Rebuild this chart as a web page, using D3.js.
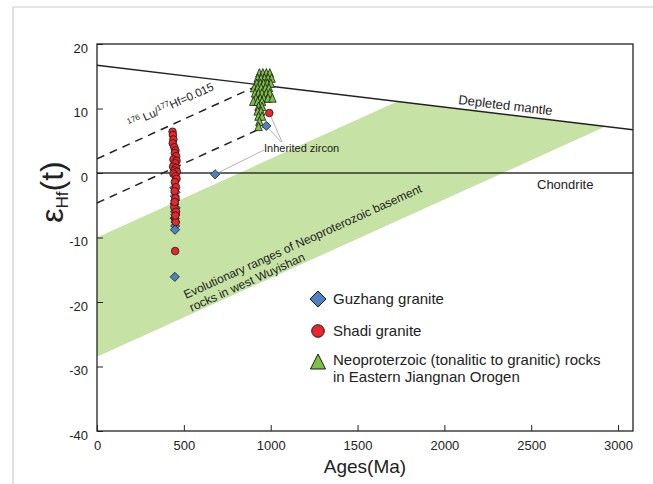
<!DOCTYPE html>
<html><head><meta charset="utf-8">
<script src="https://cdn.jsdelivr.net/npm/d3@7"></script>
<style>body{margin:0;background:#fff}svg{display:block}text{font-family:"Liberation Sans",Arial,sans-serif}</style>
</head><body>
<svg id="c" width="653" height="484"></svg>
<script>
// ---- data ----
const xTickLabels = [0, 500, 1000, 1500, 2000, 2500, 3000];
const yTickLabels = [-40, -30, -20, -10, 0, 10, 20];
const depletedMantle = [[0, 16.7], [3086, 6.7]];
const chondrite = [[0, 0], [3086, 0]];
const luHfUpper = [[0, 2.2], [937, 13.7]];
const luHfLower = [[0, -4.65], [975, 7.3]];
const wuyishanBand = [[0, -10], [1729, 11.1], [2927, 7.2], [0, -28.5]];
const guzhangAge = [445, 452, 448, 450, 446, 453, 449, 451, 447, 452, 450, 449, 448, 680, 975];
const guzhangEps = [-2.3, -3.0, -3.6, -4.2, -4.8, -5.4, -6.0, -6.5, -7.0, -7.6, -8.2, -8.8, -16.1, -0.2, 7.3];
const shadiAge = [435, 437, 440, 436, 445, 452, 448, 456, 440, 458, 450, 438, 455, 446, 460, 440, 452, 458, 448, 455, 447, 452, 445, 455, 449, 453, 447, 451, 450, 992];
const shadiEps = [6.4, 5.9, 5.2, 4.6, 4.0, 3.5, 3.1, 2.6, 2.1, 1.9, 1.5, 1.0, 0.8, 0.4, 0.2, -0.1, -0.5, -0.9, -1.4, -2.2, -2.8, -3.9, -5.3, -6.0, -7.0, -7.6, -4.5, -6.6, -12.1, 9.3];
const neoAge = [935, 955, 975, 995, 925, 945, 965, 985, 1005, 920, 940, 960, 980, 1000, 905, 925, 945, 970, 990, 910, 930, 950, 975, 995, 915, 940, 960, 985, 1010, 900, 925, 950, 930, 950, 925, 945, 930, 950, 935, 930];
const neoEps = [15.4, 15.4, 15.4, 15.4, 14.6, 14.6, 14.6, 14.6, 14.6, 13.8, 13.8, 13.8, 13.8, 13.8, 13.1, 13.1, 13.1, 13.1, 13.1, 12.3, 12.3, 12.3, 12.3, 12.3, 11.5, 11.5, 11.5, 11.5, 11.5, 11.0, 11.0, 11.0, 10.2, 10.2, 9.5, 9.5, 8.7, 8.7, 7.9, 7.1];
const inheritedTargets = [[680, -0.2], [975, 7.3], [992, 9.3]];
const legendLabels = ["Guzhang granite", "Shadi granite", ["Neoproterzoic (tonalitic to granitic) rocks", "in Eastern Jiangnan Orogen"]];

// ---- scales ----
const svg = d3.select("#c");
const x = d3.scaleLinear().domain([0, 3086]).range([97, 633]);
const y = d3.scaleLinear().domain([-40, 20]).range([431, 44]);
const line = d3.line().x(d => x(d[0])).y(d => y(d[1]));

// page border
svg.append("path").attr("d", "M13,484V7H653").attr("fill", "none").attr("stroke", "#cfcfcf").attr("stroke-width", 1.2);

// band
svg.append("path").datum(wuyishanBand).attr("d", d => line(d) + "Z").attr("fill", "#c6e2a5");

// lines
svg.append("path").datum(chondrite).attr("d", line).attr("stroke", "#333").attr("stroke-width", 1.4).attr("fill", "none");
svg.append("path").datum(depletedMantle).attr("d", line).attr("stroke", "#222").attr("stroke-width", 1.4).attr("fill", "none");
[luHfUpper, luHfLower].forEach(l => svg.append("path").datum(l).attr("d", line)
  .attr("stroke", "#222").attr("stroke-width", 1.5).attr("stroke-dasharray", "8,6").attr("fill", "none"));

// leader lines
svg.append("line").attr("x1", 264).attr("y1", 150).attr("x2", x(inheritedTargets[0][0])).attr("y2", y(inheritedTargets[0][1])).attr("stroke", "#aaa").attr("stroke-width", 0.9);
svg.append("line").attr("x1", 281).attr("y1", 142).attr("x2", x(inheritedTargets[1][0])).attr("y2", y(inheritedTargets[1][1])).attr("stroke", "#aaa").attr("stroke-width", 0.9);
svg.append("line").attr("x1", 282).attr("y1", 142).attr("x2", x(inheritedTargets[2][0])).attr("y2", y(inheritedTargets[2][1])).attr("stroke", "#aaa").attr("stroke-width", 0.9);

// frame
svg.append("rect").attr("x", 97).attr("y", 44).attr("width", 536).attr("height", 387).attr("fill", "none").attr("stroke", "#222").attr("stroke-width", 1.3);

// axes
const fmt = d => String(d);
const gx = svg.append("g").attr("transform", "translate(0,431)");
gx.call(d3.axisBottom(x).tickValues(d3.range(0, 3001, 100)).tickSize(-3).tickFormat(""));
gx.call(d3.axisBottom(x).tickValues(xTickLabels).tickSize(-6).tickPadding(10).tickFormat(fmt));
gx.selectAll(".domain").remove();
gx.selectAll("line").attr("stroke", "#222");
gx.selectAll("text").attr("font-size", 13).attr("fill", "#222").attr("font-family", "Liberation Sans, Arial");
const gy = svg.append("g").attr("transform", "translate(97,0)");
gy.call(d3.axisLeft(y).tickValues(d3.range(-40, 21, 2)).tickSize(-3).tickFormat(""));
gy.call(d3.axisLeft(y).tickValues(yTickLabels).tickSize(-6).tickPadding(9).tickFormat(fmt));
gy.selectAll(".domain").remove();
gy.selectAll("line").attr("stroke", "#222");
gy.selectAll("text").attr("font-size", 13).attr("fill", "#222").attr("dy", "0.62em").attr("font-family", "Liberation Sans, Arial");

// axis titles
svg.append("text").attr("x", 365).attr("y", 473).attr("text-anchor", "middle").attr("font-size", 19).attr("fill", "#222").text("Ages(Ma)");
const yt = svg.append("text").attr("transform", "translate(63,192) rotate(-90)").attr("text-anchor", "middle").attr("fill", "#222");
yt.append("tspan").attr("font-size", 32).text("ε");
yt.append("tspan").attr("font-size", 17).attr("dy", 5).text("Hf");
yt.append("tspan").attr("font-size", 32).attr("dy", -5).text("(t)");

// annotations
const ang = -24.4;
const lt = svg.append("text").attr("transform", `translate(130,128) rotate(${ang})`).attr("font-size", 11.5).attr("fill", "#222");
lt.append("tspan").attr("font-size", 8).attr("dy", -4).text("176");
lt.append("tspan").attr("dy", 4).text(" Lu/");
lt.append("tspan").attr("font-size", 8).attr("dy", -4).text("177");
lt.append("tspan").attr("dy", 4).text("Hf=0.015");
const bt = svg.append("text").attr("transform", `translate(186,299) rotate(${ang})`).attr("font-size", 12).attr("fill", "#222");
bt.append("tspan").attr("x", 0).text("Evolutionary ranges  of Neoproterozoic basement");
bt.append("tspan").attr("x", 0).attr("dy", 14).text("rocks in west Wuyishan");
svg.append("text").attr("transform", `translate(458,104) rotate(6.8)`).attr("font-size", 13).attr("fill", "#222").text("Depleted mantle");
svg.append("text").attr("x", 537).attr("y", 189).attr("font-size", 13).attr("fill", "#222").text("Chondrite");
svg.append("text").attr("x", 264).attr("y", 152).attr("font-size", 11).attr("fill", "#222").text("Inherited zircon");

// symbols
const diamond = s => `M0,${-s}L${s},0L0,${s}L${-s},0Z`;
const tri = (w, h) => `M0,${-h * 0.6}L${w / 2},${h * 0.4}L${-w / 2},${h * 0.4}Z`;
const blue = "#4f81c0", red = "#e8262b", green = "#7dc142";

svg.append("g").selectAll("path").data(d3.range(neoAge.length)).join("path")
  .attr("d", tri(7.5, 8.5)).attr("transform", i => `translate(${x(neoAge[i])},${y(neoEps[i])})`)
  .attr("fill", green).attr("stroke", "#1a1a1a").attr("stroke-width", 0.8);
svg.append("g").selectAll("path").data(d3.range(guzhangAge.length)).join("path")
  .attr("d", diamond(4.6)).attr("transform", i => `translate(${x(guzhangAge[i])},${y(guzhangEps[i])})`)
  .attr("fill", blue).attr("stroke", "#1a1a1a").attr("stroke-width", 0.8);
svg.append("g").selectAll("circle").data(d3.range(shadiAge.length)).join("circle")
  .attr("cx", i => x(shadiAge[i])).attr("cy", i => y(shadiEps[i])).attr("r", 3.8)
  .attr("fill", red).attr("stroke", "#1a1a1a").attr("stroke-width", 0.8);

// legend
const lg = svg.append("g");
lg.append("path").attr("d", diamond(8)).attr("transform", "translate(318,299)").attr("fill", blue).attr("stroke", "#1a1a1a").attr("stroke-width", 1);
lg.append("circle").attr("cx", 318).attr("cy", 331).attr("r", 6.3).attr("fill", red).attr("stroke", "#1a1a1a").attr("stroke-width", 1);
lg.append("path").attr("d", tri(15, 15)).attr("transform", "translate(318,363)").attr("fill", green).attr("stroke", "#1a1a1a").attr("stroke-width", 1);
lg.append("text").attr("x", 333).attr("y", 304).attr("font-size", 15).attr("fill", "#222").text(legendLabels[0]);
lg.append("text").attr("x", 333).attr("y", 336).attr("font-size", 15).attr("fill", "#222").text(legendLabels[1]);
const l3 = lg.append("text").attr("font-size", 15).attr("fill", "#222");
l3.append("tspan").attr("x", 333).attr("y", 365).text(legendLabels[2][0]);
l3.append("tspan").attr("x", 333).attr("y", 382).text(legendLabels[2][1]);
</script>
</body></html>
